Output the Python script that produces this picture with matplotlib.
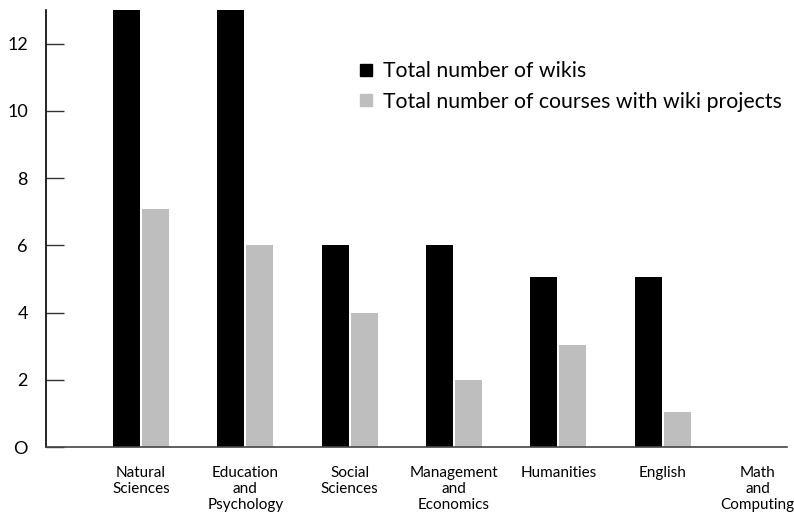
import numpy as np
import matplotlib.pyplot as plt
from matplotlib.lines import Line2D
from matplotlib.transforms import ScaledTranslation

# data
categories = ["Natural\nSciences", "Education\nand\nPsychology", "Social\nSciences",
              "Management\nand\nEconomics", "Humanities", "English", "Math\nand\nComputing"]
wikis = [14, 14, 6, 6, 5.05, 5.05, 0]
courses = [7.07, 6, 4, 2, 3.03, 1.04, 0]
yticks = [0, 2, 4, 6, 8, 10, 12]
ytick_labels = ["O", "2", "4", "6", "8", "10", "12"]

plt.rcParams["font.family"] = ["Lato", "DejaVu Sans"]

fig = plt.figure(figsize=(7.94, 5.19), dpi=100)
ax = fig.add_axes([0.0579, 0.1387, 0.9333, 0.842])

x = np.arange(len(categories))
w = 0.259
off = 0.139
ax.bar(x - off, wikis, w, color="black", label="Total number of wikis")
ax.bar(x + off, courses, w, color="#bebebf", label="Total number of courses with wiki projects")

ax.set_xlim(-0.911, 6.19)
ax.set_ylim(0, 13)

for s in ["top", "right"]:
    ax.spines[s].set_visible(False)
ax.spines["left"].set_linewidth(1.2)
ax.spines["bottom"].set_linewidth(1.2)
ax.spines["bottom"].set_color("#444444")

ax.set_yticks(yticks)
ax.set_yticklabels(ytick_labels, fontsize=13)
ax.tick_params(axis="y", direction="in", length=13, width=1, color="#333333", pad=13)
ax.set_xticks(x)
ax.set_xticklabels(categories, fontsize=11, linespacing=1.18)
ax.tick_params(axis="x", length=0, pad=14)
# last label nudged left so it stays inside the figure
lab = ax.get_xticklabels()[-1]
lab.set_transform(lab.get_transform() + ScaledTranslation(-7 / 72, 0, fig.dpi_scale_trans))

handles = [Line2D([], [], marker="s", color="black", linestyle="none", markersize=9),
           Line2D([], [], marker="s", color="#bebebf", linestyle="none", markersize=9)]
ax.legend(handles, ["Total number of wikis", "Total number of courses with wiki projects"],
          loc="upper left", bbox_to_anchor=(0.450, 0.882), bbox_transform=fig.transFigure,
          frameon=False, fontsize=15.3, handlelength=0.8, handletextpad=0.4,
          labelspacing=0.5, borderaxespad=0, borderpad=0)

fig.savefig("out.png", dpi=100)
